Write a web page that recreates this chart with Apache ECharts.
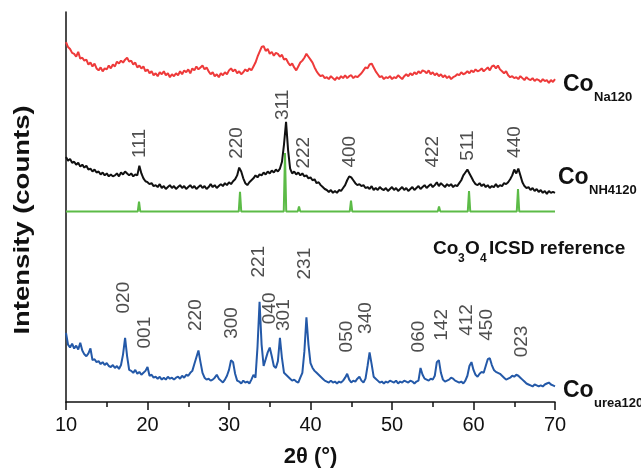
<!DOCTYPE html>
<html>
<head>
<meta charset="utf-8">
<script src="https://cdn.jsdelivr.net/npm/echarts@6/dist/echarts.min.js"></script>
<style>
  html, body { margin: 0; padding: 0; background: #fff; }
  #chart { width: 641px; height: 473px; }
</style>
</head>
<body>
<div id="chart"></div>
<script>
// XRD patterns, intensities (arbitrary units)
// 2θ grid: 10 .. 70 in steps of 0.25
const angleStart = 10;
const angleStep = 0.25;

// Co Na120 (red)
const naIntensity = [
  373, 368, 366, 362, 361, 358, 363, 356, 357, 354, 355, 350, 352, 348, 351, 346,
  344, 347, 343, 346, 345, 349, 346, 350, 348, 353, 351, 354, 352, 355, 357, 353,
  354, 350, 352, 347, 349, 346, 348, 343, 345, 341, 343, 339, 341, 338, 342, 340,
  343, 339, 341, 337, 340, 338, 341, 339, 343, 340, 344, 342, 345, 341, 346, 344,
  348, 345, 347, 349, 345, 347, 343, 340, 342, 338, 340, 337, 341, 339, 342, 340,
  344, 346, 343, 345, 341, 343, 340, 342, 345, 343, 346, 344, 348, 352, 358, 363,
  368, 369, 364, 366, 361, 363, 359, 362, 361, 358, 360, 355, 356, 352, 349, 351,
  347, 344, 348, 352, 354, 357, 361, 358, 355, 352, 347, 343, 340, 338, 339, 336,
  337, 335, 338, 336, 334, 337, 335, 338, 336, 339, 336, 338, 339, 336, 338, 337,
  339, 341, 344, 347, 346, 350, 351, 347, 343, 340, 337, 338, 335, 337, 336, 338,
  335, 337, 336, 339, 337, 335, 338, 340, 338, 341, 339, 342, 340, 343, 341, 344,
  343, 341, 344, 340, 342, 339, 341, 338, 340, 337, 339, 336, 338, 335, 337, 338,
  340, 339, 342, 340, 341, 343, 341, 344, 342, 345, 343, 344, 346, 343, 345, 347,
  344, 348, 349, 346, 349, 345, 343, 341, 343, 339, 337, 338, 336, 337, 335, 338,
  336, 334, 337, 335, 334, 336, 333, 335, 334, 332, 335, 333, 334, 331, 334, 332,
  335
];

// Co NH4120 (black)
const nh4Intensity = [
  255, 251, 253, 249, 250, 247, 249, 245, 247, 244, 246, 242, 243, 240, 242, 239,
  240, 237, 239, 236, 238, 235, 237, 235, 236, 238, 235, 239, 237, 240, 238, 236,
  238, 235, 237, 236, 246, 238, 233, 230, 229, 227, 228, 225, 226, 224, 227, 223,
  225, 222, 224, 226, 223, 225, 222, 224, 226, 223, 225, 222, 224, 226, 223, 225,
  222, 224, 226, 223, 225, 222, 224, 227, 224, 226, 223, 225, 227, 225, 228, 226,
  229, 227, 230, 232, 236, 244, 240, 233, 228, 226, 229, 231, 233, 236, 234, 237,
  236, 239, 237, 240, 238, 241, 239, 242, 240, 243, 250, 268, 291, 262, 243, 238,
  240, 237, 239, 236, 238, 235, 236, 233, 234, 231, 232, 228, 229, 226, 224, 222,
  221, 219, 221, 218, 220, 218, 221, 220, 223, 226, 231, 235, 234, 231, 228, 226,
  227, 225, 226, 223, 224, 222, 225, 221, 223, 221, 224, 222, 221, 223, 220, 222,
  224, 221, 223, 220, 222, 224, 221, 223, 220, 222, 224, 221, 223, 225, 222, 224,
  226, 223, 225, 227, 224, 226, 229, 225, 228, 226, 224, 227, 225, 227, 224, 226,
  225, 228, 231, 236, 239, 242, 238, 234, 230, 227, 226, 228, 225, 227, 224, 226,
  223, 225, 224, 227, 224, 226, 225, 228, 227, 229, 232, 236, 242, 238, 243, 236,
  229, 225, 223, 224, 221, 223, 220, 222, 219, 221, 218, 220, 217, 220, 218, 219,
  218
];

// Co urea120 (blue)
const ureaIntensity = [
  74, 62, 59, 63, 58, 61, 57, 64, 56, 52, 50, 53, 58, 46, 47, 44,
  45, 42, 44, 41, 43, 40, 39, 41, 38, 40, 37, 41, 52, 69, 50, 36,
  35, 33, 36, 32, 34, 31, 33, 35, 39, 30, 31, 28, 29, 27, 29, 26,
  28, 26, 29, 27, 28, 26, 28, 29, 27, 30, 28, 31, 30, 33, 35, 42,
  49, 56, 44, 33, 28, 26, 27, 25, 26, 28, 31, 27, 25, 23, 26, 30,
  36, 46, 44, 32, 25, 24, 22, 25, 23, 24, 22, 26, 31, 28, 60, 106,
  62, 40, 47, 54, 59, 50, 40, 38, 45, 69, 48, 33, 31, 29, 27, 25,
  26, 24, 23, 28, 33, 55, 90, 62, 43, 38, 35, 33, 31, 29, 27, 25,
  24, 23, 25, 23, 24, 22, 24, 23, 25, 28, 32, 26, 23, 25, 24, 27,
  29, 25, 23, 27, 40, 54, 42, 29, 27, 25, 23, 24, 22, 24, 23, 25,
  24, 23, 25, 22, 24, 23, 25, 24, 23, 25, 24, 22, 24, 25, 38, 31,
  27, 26, 25, 27, 26, 30, 44, 46, 33, 26, 24, 25, 26, 28, 27, 25,
  24, 23, 24, 22, 25, 30, 40, 44, 36, 31, 29, 32, 34, 33, 40, 47,
  48, 41, 36, 34, 33, 32, 30, 28, 26, 27, 28, 30, 29, 31, 30, 28,
  26, 24, 22, 21, 20, 19, 21, 20, 19, 20, 19, 21, 22, 23, 21, 20,
  19
];

// Co3O4 ICSD reference sticks (green)
const refBaseline = 199;
const refPeakAngles = [18.96, 31.35, 36.87, 38.59, 44.97, 55.77, 59.45, 65.46, 68.77];
const refPeakHeights = [10, 20, 60, 5, 11, 5, 21, 23, 2];

// peak labels
const nh4Hkl = ['111', '220', '311', '222', '400', '422', '511', '440'];
const nh4HklAngles = [19.08, 30.98, 36.63, 39.2, 44.85, 55.03, 59.33, 65.09];
const nh4HklLevels = [254, 253, 293, 243, 244, 244, 251, 254];

const ureaHkl = ['020', '001', '220', '300', '221', '040', '301', '231', '050', '340', '060', '142', '412', '450', '023'];
const ureaHklAngles = [17.12, 19.69, 25.95, 30.37, 33.68, 35.03, 36.75, 39.33, 44.48, 46.81, 53.31, 56.13, 59.2, 61.66, 65.95];
const ureaHklLevels = [94, 58, 76, 68, 131, 83, 76, 129, 54, 73, 54, 66, 71, 66, 49];

const textFont = '"Liberation Sans", Arial, sans-serif';

function toPairs(values) {
  return values.map((v, i) => [angleStart + i * angleStep, v]);
}

function stickPattern() {
  const pts = [[10, refBaseline]];
  refPeakAngles.forEach((a, i) => {
    pts.push([a - 0.15, refBaseline]);
    pts.push([a, refBaseline + refPeakHeights[i]]);
    pts.push([a + 0.15, refBaseline]);
  });
  pts.push([70, refBaseline]);
  return pts;
}

function hklSeries(labels, angles, levels) {
  return {
    type: 'scatter',
    symbolSize: 0,
    silent: true,
    data: angles.map((a, i) => ({ value: [a, levels[i]], name: labels[i] })),
    label: {
      show: true,
      position: 'inside',
      rotate: 90,
      align: 'left',
      verticalAlign: 'middle',
      formatter: p => p.name,
      fontFamily: textFont,
      fontSize: 19,
      color: '#222'
    }
  };
}

function lineSeries(data, color) {
  return {
    type: 'line',
    data: data,
    showSymbol: false,
    silent: true,
    lineStyle: { color: color, width: 2 },
    z: 3
  };
}

// series name with a subscript
function nameLabel(x, y, main, sub) {
  return [
    { type: 'text', x: x, y: y,
      style: { text: main, font: 'bold 23px ' + textFont, fill: '#111', textVerticalAlign: 'middle' } },
    { type: 'text', x: x + 31, y: y + 12,
      style: { text: sub, font: 'bold 13px ' + textFont, fill: '#111', textVerticalAlign: 'middle' } }
  ];
}

const chart = echarts.init(document.getElementById('chart'));

chart.setOption({
  animation: false,
  backgroundColor: '#fff',
  grid: { left: 66, right: 86, top: 12, bottom: 60 },
  xAxis: {
    type: 'value',
    min: 10,
    max: 70,
    interval: 10,
    name: '2θ (°)',
    nameLocation: 'middle',
    nameGap: 44,
    nameTextStyle: { fontFamily: textFont, fontWeight: 'bold', fontSize: 22, color: '#111' },
    axisLine: { onZero: false, lineStyle: { color: '#111', width: 1.5 } },
    axisTick: { length: 8, lineStyle: { color: '#111', width: 1.5 } },
    minorTick: { show: true, splitNumber: 2, length: 5, lineStyle: { color: '#111', width: 1.5 } },
    axisLabel: { fontFamily: textFont, fontSize: 20, color: '#111', margin: 13 },
    splitLine: { show: false }
  },
  yAxis: {
    type: 'value',
    min: 3,
    max: 404,
    axisLine: { show: true, onZero: false, lineStyle: { color: '#111', width: 1.5 } },
    axisTick: { show: false },
    axisLabel: { show: false },
    splitLine: { show: false }
  },
  series: [
    lineSeries(toPairs(naIntensity), '#ee3a3a'),
    lineSeries(toPairs(nh4Intensity), '#111111'),
    lineSeries(stickPattern(), '#5cbb47'),
    lineSeries(toPairs(ureaIntensity), '#2459a8'),
    hklSeries(nh4Hkl, nh4HklAngles, nh4HklLevels),
    hklSeries(ureaHkl, ureaHklAngles, ureaHklLevels)
  ],
  graphic: [
    { type: 'text', x: 23, y: 220, rotation: Math.PI / 2, scaleX: 1.25,
      style: { text: 'Intensity (counts)', font: 'bold 22px ' + textFont, fill: '#111',
               textAlign: 'center', textVerticalAlign: 'middle' } },
    ...nameLabel(563, 85, 'Co', 'Na120'),
    ...nameLabel(558, 178, 'Co', 'NH4120'),
    ...nameLabel(563, 391, 'Co', 'urea120'),
    { type: 'text', x: 433, y: 249, style: { text: 'Co', font: 'bold 19px ' + textFont, fill: '#111', textVerticalAlign: 'middle' } },
    { type: 'text', x: 458, y: 259, style: { text: '3', font: 'bold 12px ' + textFont, fill: '#111', textVerticalAlign: 'middle' } },
    { type: 'text', x: 465, y: 249, style: { text: 'O', font: 'bold 19px ' + textFont, fill: '#111', textVerticalAlign: 'middle' } },
    { type: 'text', x: 480, y: 259, style: { text: '4', font: 'bold 12px ' + textFont, fill: '#111', textVerticalAlign: 'middle' } },
    { type: 'text', x: 489, y: 249, style: { text: 'ICSD reference', font: 'bold 19px ' + textFont, fill: '#111', textVerticalAlign: 'middle' } }
  ]
});
</script>
</body>
</html>
